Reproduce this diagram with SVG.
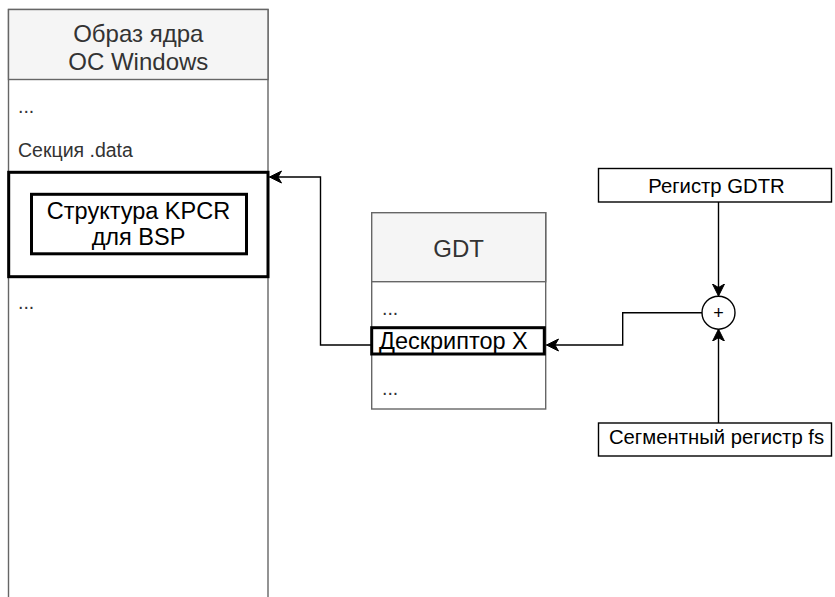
<svg xmlns="http://www.w3.org/2000/svg" width="835" height="597" viewBox="0 0 835 597">
<style>
text{font-family:"Liberation Sans",Arial,sans-serif;fill:#000}
.hdr{font-size:24px;fill:#333;text-anchor:middle}
.big{font-size:23.5px}
.mid{font-size:20.3px;text-anchor:middle}
.sm{font-size:19.5px;fill:#333}
.lane{fill:#fff;stroke:#666;stroke-width:1.4}
.lanehdr{fill:#f5f5f5;stroke:#666;stroke-width:1.4}
.thick{fill:none;stroke:#000;stroke-width:3}
.box{fill:#fff;stroke:#000;stroke-width:1.4}
.edge{fill:none;stroke:#000;stroke-width:1.4}
</style>
<defs>
<marker id="arr" markerUnits="userSpaceOnUse" markerWidth="14" markerHeight="14" viewBox="-12 -7 14 14" refX="0" refY="0" orient="auto">
<path d="M0,0 L-12,-6 L-8.5,0 L-12,6 Z" fill="#000" stroke="#000" stroke-width="1"/>
</marker>
</defs>
<g id="kernel">
<rect class="lane" x="8.5" y="9.5" width="259.5" height="600"/>
<rect class="lanehdr" x="8.5" y="9.5" width="259.5" height="70"/>
<text class="hdr" x="138.3" y="41.7">Образ ядра</text>
<text class="hdr" x="138.3" y="70">OC Windows</text>
<text class="sm" x="18" y="113">...</text>
<text class="sm" x="18" y="157">Секция .data</text>
<text class="sm" x="18" y="309">...</text>
</g>
<g id="kpcr-section">
<rect class="thick" x="8.7" y="172.3" width="259.3" height="104.4"/>
</g>
<g id="kpcr">
<rect class="thick" x="31.5" y="194.3" width="215" height="59.5" stroke-width="2.8"/>
<text class="big" x="138.5" y="218.5" text-anchor="middle">Структура KPCR</text>
<text class="big" x="138.5" y="245" text-anchor="middle">для BSP</text>
</g>
<g id="gdt">
<rect class="lane" x="371.7" y="212.7" width="174" height="196.3"/>
<rect class="lanehdr" x="371.7" y="212.7" width="174" height="69"/>
<text class="hdr" x="458.7" y="256.7">GDT</text>
<text class="sm" x="382" y="315">...</text>
<text class="sm" x="382" y="395">...</text>
</g>
<g id="descriptor">
<rect class="thick" x="371.7" y="327.7" width="172.6" height="26.3" fill="#fff"/>
<text class="big" x="379" y="348.5">Дескриптор X</text>
</g>
<g id="gdtr">
<rect class="box" x="598.5" y="168.5" width="233" height="33.5"/>
<text class="mid" x="716.5" y="193">Регистр GDTR</text>
</g>
<g id="fs">
<rect class="box" x="598.5" y="423" width="233" height="33"/>
<text class="mid" x="716.5" y="443.5">Сегментный регистр fs</text>
</g>
<g id="adder">
<circle cx="718.5" cy="312.7" r="16.5" fill="#fff" stroke="#000" stroke-width="1.4"/>
<text x="718.5" y="319" font-size="18" text-anchor="middle">+</text>
</g>
<g id="connectors">
<path class="edge" d="M371.7,345 L320.5,345 L320.5,177 L269.5,177" marker-end="url(#arr)"/>
<path class="edge" d="M702,312.7 L622.7,312.7 L622.7,345 L546.5,345" marker-end="url(#arr)"/>
<path class="edge" d="M718.5,202 L718.5,296" marker-end="url(#arr)"/>
<path class="edge" d="M718.5,423 L718.5,329.2" marker-end="url(#arr)"/>
</g>
</svg>
